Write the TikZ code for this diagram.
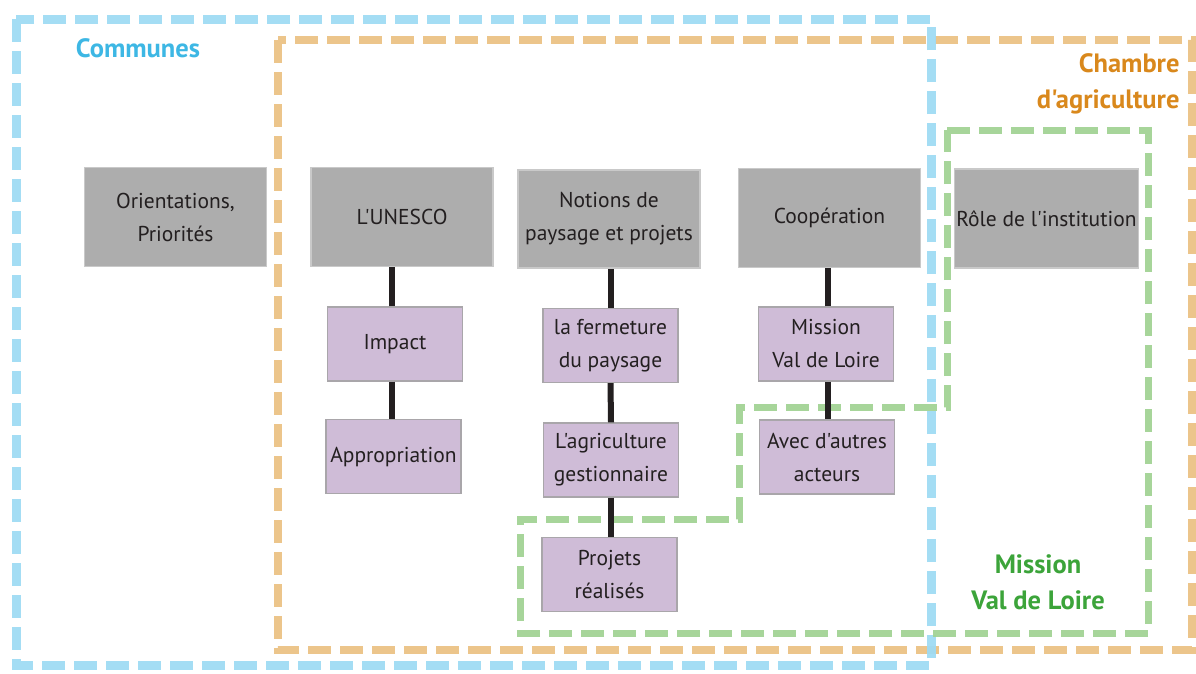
\documentclass[tikz,border=0pt]{standalone}
\usepackage{fontspec}
\setmainfont{PT Sans}[Ligatures=TeXOff]
\usetikzlibrary{positioning}
\definecolor{CommBlue}{HTML}{9FDBF3}
\definecolor{CommText}{HTML}{3DB7E4}
\definecolor{ChamOrange}{HTML}{EBC285}
\definecolor{ChamText}{HTML}{D9881C}
\definecolor{MissGreen}{HTML}{A2D395}
\definecolor{MissText}{HTML}{3CA43A}
\definecolor{ThemeGray}{HTML}{ADADAD}
\definecolor{ThemeEdge}{HTML}{C9C9C9}
\definecolor{SubPurple}{HTML}{CFBCD7}
\definecolor{SubEdge}{HTML}{A9A6AA}
\definecolor{Ink}{HTML}{231F20}

\begin{document}
\begin{tikzpicture}[x=1pt,y=-1pt,
    theme/.style={draw=ThemeEdge,fill=ThemeGray,line width=1.2pt,minimum width=182pt,minimum height=99pt,
      inner sep=2pt,align=center,text=Ink,font=\fontsize{21.5}{33}\selectfont},
    sub/.style={draw=SubEdge,fill=SubPurple,line width=1.2pt,minimum width=135pt,minimum height=74pt,
      inner sep=2pt,align=center,text=Ink,font=\fontsize{21.5}{33}\selectfont},
    link/.style={line width=6pt,Ink},
    zone/.style={line width=8pt,dash pattern=on 23pt off 9pt,draw opacity=0.95},
    zonelabel/.style={font=\bfseries\fontsize{26.5}{36}\selectfont}]
    \useasboundingbox (0,0) rectangle (1196,673);
    % zones
    \draw[zone,ChamOrange] (278,40) rectangle (1192,650);
    \draw[zone,CommBlue,line width=9pt] (16,19) rectangle (931,665);
    \draw[zone,MissGreen,line width=7pt] (947,130) -- (1148,130) -- (1148,633) -- (520,633)
      -- (520,519) -- (739,519) -- (739,407) -- (947,407) -- cycle;
    \node[zonelabel,text=CommText] (commlbl) at (138,48) {Communes};
    \node[zonelabel,text=ChamText,align=right,anchor=east] (chamlbl) at (1183,84) {Chambre\\d'agriculture};
    \node[zonelabel,text=MissText,align=center] (misslbl) at (1038,582) {Mission\\Val de Loire};
    % themes
    \node[theme] (orient) at (175.5,217) {Orientations,\\Priorités};
    \node[theme] (unesco) at (402,217) {L'UNESCO};
    \node[theme,minimum height=98pt] (notions) at (609,219) {Notions de\\paysage et projets};
    \node[theme] (coop) at (829.5,218) {Coopération};
    \node[theme] (role) at (1046.5,218.5) {Rôle de l'institution};
    % sub themes
    \node[sub] (impact) at (395,344) {Impact};
    \node[sub] (approp) at (393.5,456.5) {Appropriation};
    \node[sub] (ferme) at (610.5,345.5) {la fermeture\\du paysage};
    \node[sub] (agri) at (611,460) {L'agriculture\\gestionnaire};
    \node[sub] (projets) at (609.5,574.5) {Projets\\réalisés};
    \node[sub] (mission) at (826,344) {Mission\\Val de Loire};
    \node[sub] (avec) at (827,457) {Avec d'autres\\acteurs};
    % links
    \draw[link] ([xshift=-3pt]impact.north) -- ([xshift=-3pt]impact.north |- unesco.south);
    \draw[link] ([xshift=-3pt]impact.south) -- ([xshift=-1.5pt]approp.north);
    \draw[link] (ferme.north) -- (ferme.north |- notions.south);
    \draw[link] (ferme.south) -- (agri.north);
    \draw[link] (agri.south) -- ([xshift=1.5pt]projets.north);
    \draw[link] ([xshift=2pt]mission.north) -- ([xshift=2pt]mission.north |- coop.south);
    \draw[link] ([xshift=2pt]mission.south) -- ([xshift=1pt]avec.north);
\end{tikzpicture}
\end{document}
